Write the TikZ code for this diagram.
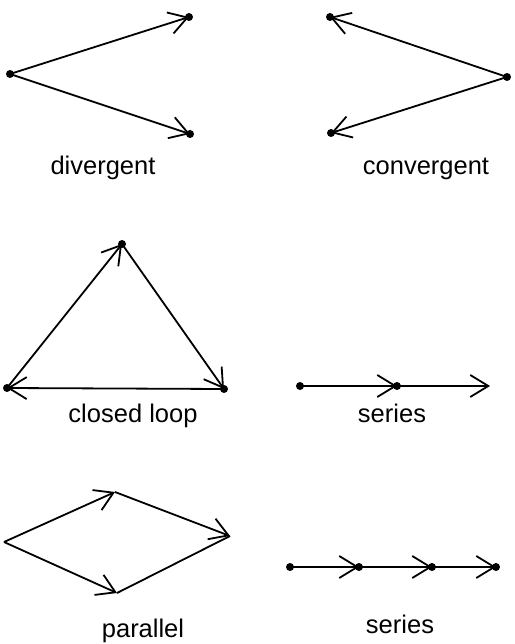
\documentclass[tikz,border=0pt]{standalone}
\usepackage{fontspec}
\setmainfont{Liberation Sans}
\usetikzlibrary{arrows.meta}
\begin{document}
\begin{tikzpicture}[x=1pt,y=-1pt,
  dot/.style={circle,fill=black,inner sep=0pt,minimum size=8pt},
  link/.style={line width=1.8pt},
  arr/.style={link,-{Straight Barb[length=18pt,width=22pt,line width=1.8pt]}},
  lbl/.style={anchor=base,font=\fontsize{25.5}{30}\selectfont}]
\useasboundingbox (0,0) rectangle (514,644);
% divergent
\node[dot] (d0) at (10,74) {};
\node[dot] (d1) at (189,17) {};
\node[dot] (d2) at (190,134) {};
\draw[arr] (d0.center) -- (d1.center);
\draw[arr] (d0.center) -- (d2.center);
\node[lbl] (dl) at (103,175) {divergent};
% convergent
\node[dot] (c0) at (507,77) {};
\node[dot] (c1) at (330,17) {};
\node[dot] (c2) at (331,133) {};
\draw[arr] (c0.center) -- (c1.center);
\draw[arr] (c0.center) -- (c2.center);
\node[lbl] (cl) at (426,175) {convergent};
% closed loop
\node[dot] (l0) at (122,244) {};
\node[dot] (l1) at (224,389) {};
\node[dot] (l2) at (7,388) {};
\draw[arr] (l2.center) -- (l0.center);
\draw[arr] (l0.center) -- (l1.center);
\draw[arr] (l1.center) -- (l2.center);
\node[lbl] (ll) at (133,422) {closed loop};
% series 1
\node[dot] (s0) at (300,386) {};
\node[dot] (s1) at (397,386) {};
\coordinate (s2) at (490,386);
\draw[arr] (s0.center) -- (s1.center);
\draw[arr] (s1.center) -- (s2);
\node[lbl] (sl) at (392,422) {series};
% parallel
\coordinate (p0) at (4,542);
\coordinate (p1) at (115,492);
\coordinate (p2) at (230,536);
\coordinate (p3) at (117,593);
\draw[arr] (p0) -- (p1);
\draw[arr] (p1) -- (p2);
\draw[arr] (p0) -- (p3);
\draw[link] (p3) -- (p2);
\node[lbl] (pl) at (143,637) {parallel};
% series 2
\node[dot] (t0) at (290,567) {};
\node[dot] (t1) at (359,567) {};
\node[dot] (t2) at (432,567) {};
\node[dot] (t3) at (496,567) {};
\draw[arr] (t0.center) -- (t1.center);
\draw[arr] (t1.center) -- (t2.center);
\draw[arr] (t2.center) -- (t3.center);
\node[lbl] (tl) at (400,633) {series};
\end{tikzpicture}
\end{document}
